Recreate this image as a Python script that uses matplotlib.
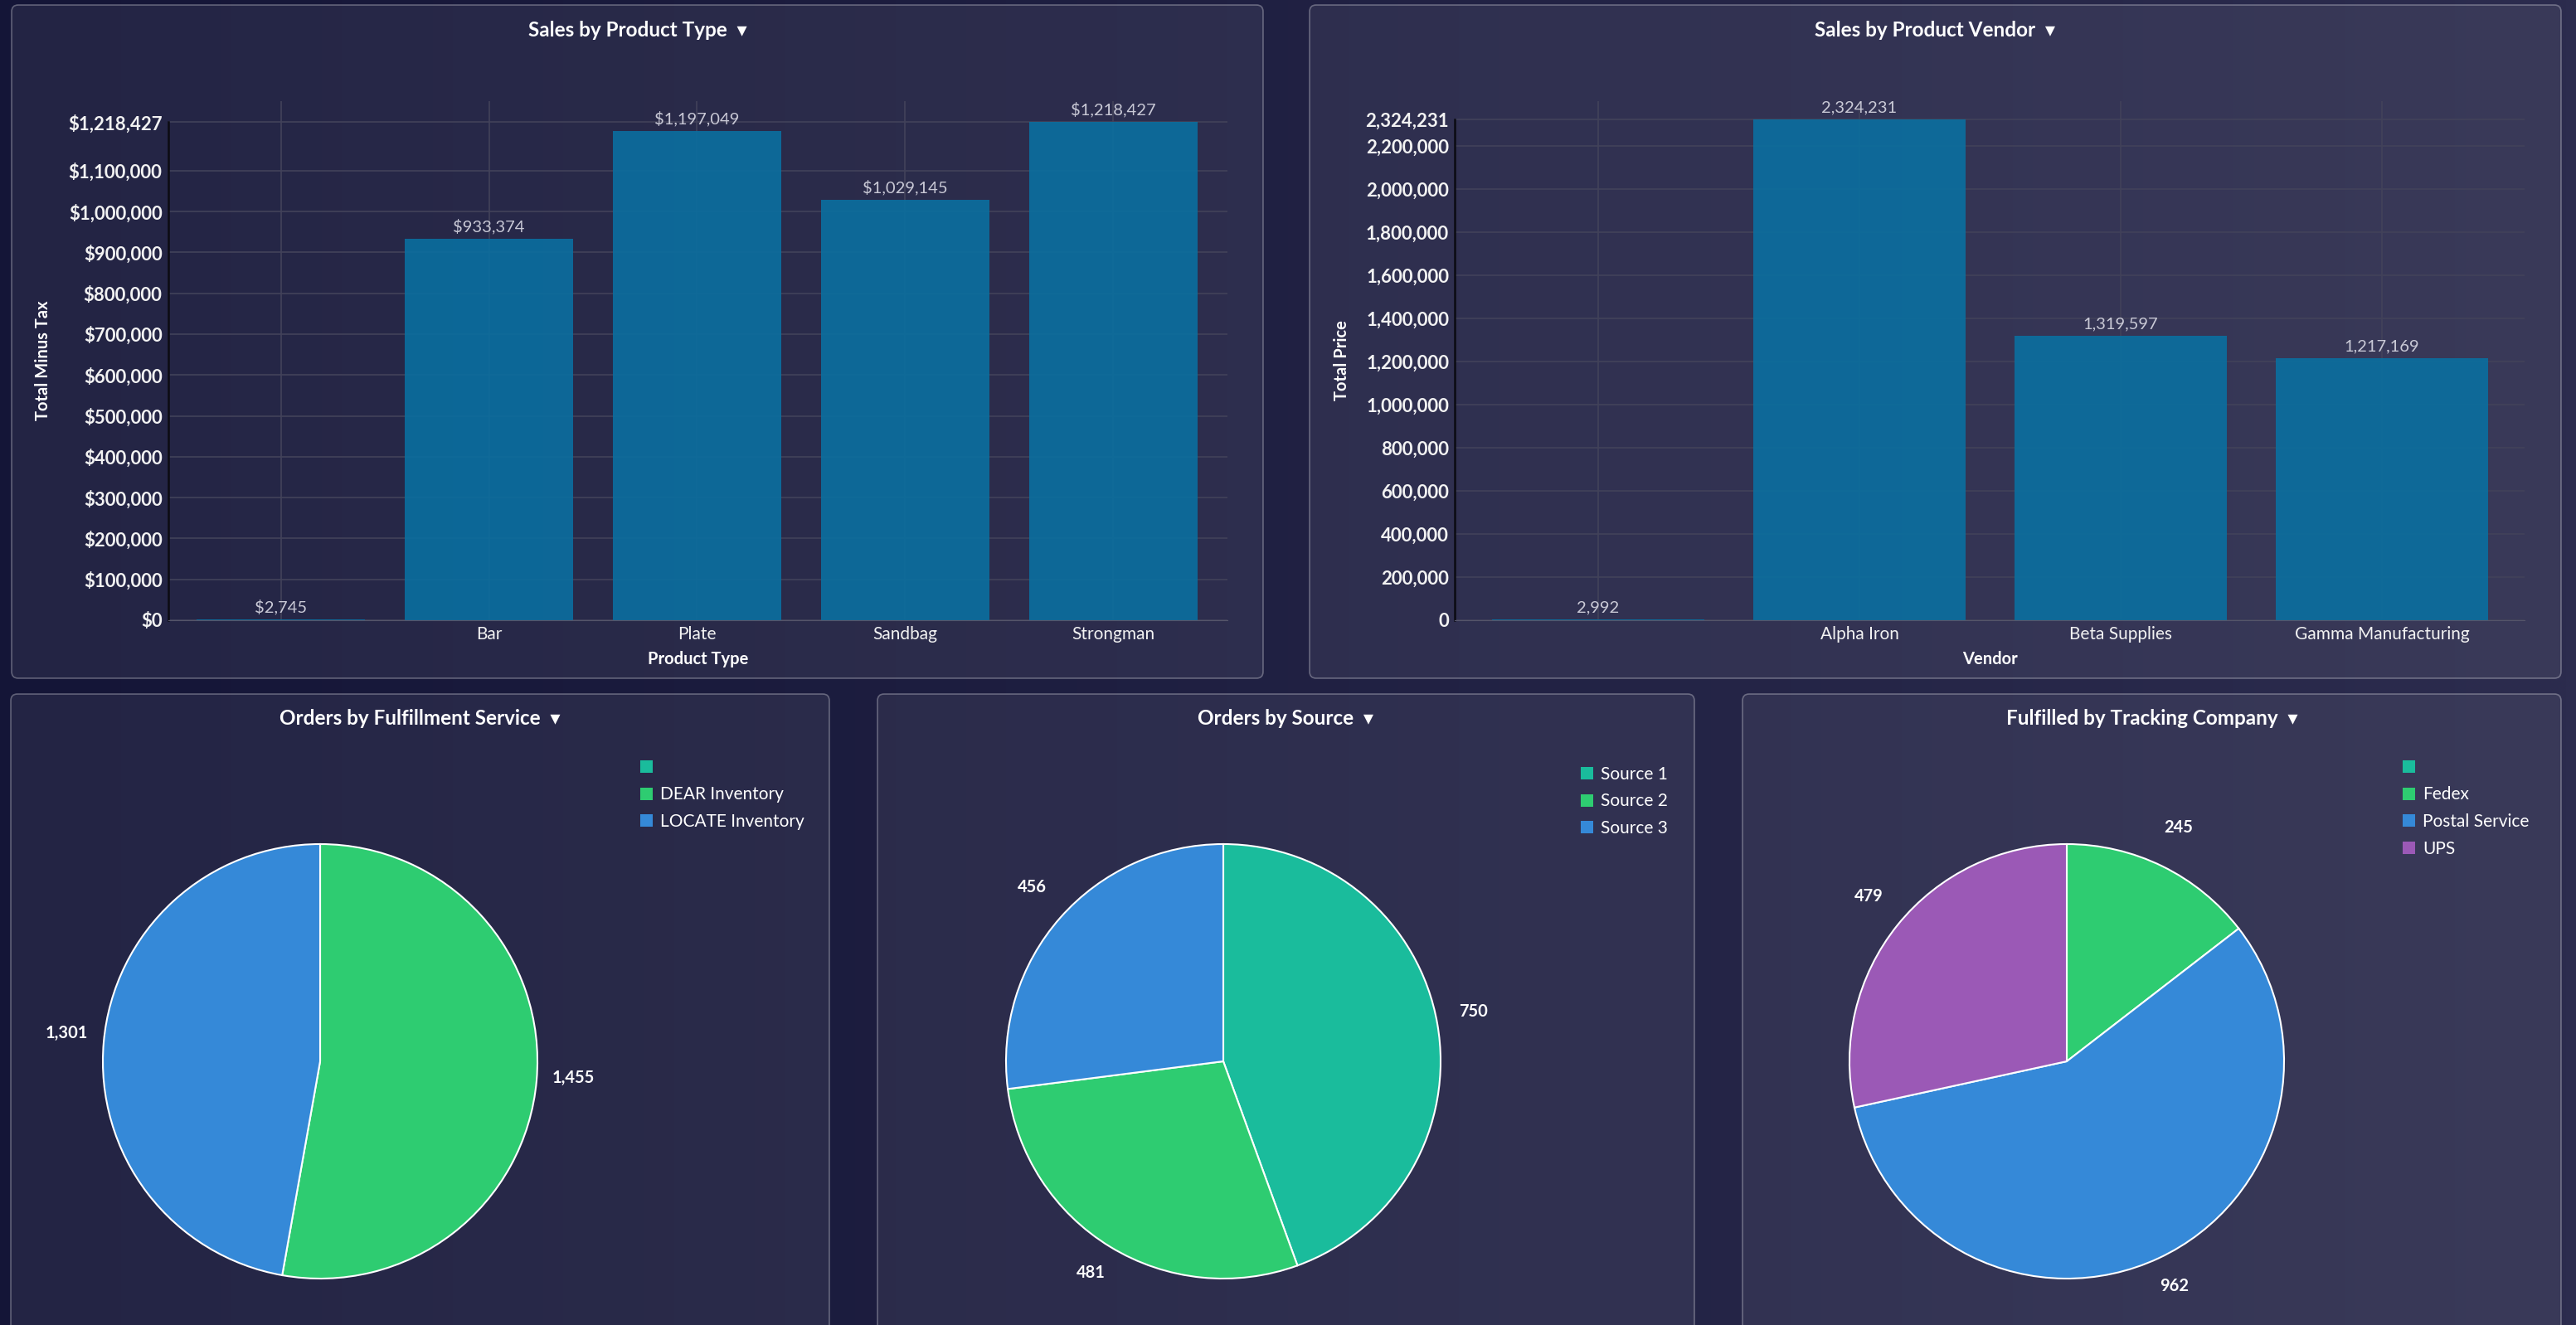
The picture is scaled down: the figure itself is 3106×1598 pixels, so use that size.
import matplotlib
matplotlib.use("Agg")
import matplotlib.pyplot as plt
import numpy as np
from matplotlib.patches import FancyBboxPatch, Patch
from matplotlib.colors import LinearSegmentedColormap

plt.rcParams['font.family'] = ['Lato', 'DejaVu Sans']

W, H = 3106, 1598

# ---- data ----
type_names = ["", "Bar", "Plate", "Sandbag", "Strongman"]
type_totals = [2745, 933374, 1197049, 1029145, 1218427]
type_ticks = [0, 100000, 200000, 300000, 400000, 500000, 600000,
              700000, 800000, 900000, 1000000, 1100000, 1218427]

vendor_names = ["", "Alpha Iron", "Beta Supplies", "Gamma Manufacturing"]
vendor_totals = [2992, 2324231, 1319597, 1217169]
vendor_ticks = [0, 200000, 400000, 600000, 800000, 1000000, 1200000,
                1400000, 1600000, 1800000, 2000000, 2200000, 2324231]

fulfil_names = ["", "DEAR Inventory", "LOCATE Inventory"]
fulfil_orders = [0, 1455, 1301]

source_names = ["Source 1", "Source 2", "Source 3"]
source_orders = [750, 481, 456]

tracking_names = ["", "Fedex", "Postal Service", "UPS"]
tracking_orders = [0, 245, 962, 479]

teal, green, blue, purple = "#1abc9c", "#2ecc71", "#3589d8", "#9b59b6"
bar_color = "#0a6fa0"

fig = plt.figure(figsize=(W / 100, H / 100), dpi=100)

# background gradient + panels, in pixel coords
bg = fig.add_axes([0, 0, 1, 1])
bg.set_xlim(0, W)
bg.set_ylim(H, 0)
bg.axis("off")
cmap = LinearSegmentedColormap.from_list("bg", ["#141537", "#2c2c4e"])
bg.imshow(np.linspace(0, 1, 256)[None, :], extent=[0, W, H, 0],
          aspect="auto", cmap=cmap, zorder=0)

panels = [
    ((14, 6, 1523, 818), "Sales by Product Type"),
    ((1579, 6, 3088, 818), "Sales by Product Vendor"),
    ((13, 837, 1000, 1640), "Orders by Fulfillment Service"),
    ((1058, 837, 2043, 1640), "Orders by Source"),
    ((2101, 837, 3088, 1640), "Fulfilled by Tracking Company"),
]
for (x0, y0, x1, y1), title in panels:
    bg.add_patch(FancyBboxPatch((x0, y0), x1 - x0, y1 - y0,
                                boxstyle="round,pad=0,rounding_size=8",
                                facecolor=(1, 1, 1, 0.065),
                                edgecolor=(1, 1, 1, 0.3), lw=1.2, zorder=1))
    bg.text((x0 + x1) / 2, y0 + 30, title + "  \u25BE", ha="center", va="center",
            fontsize=17.5, weight="bold", color="white", zorder=2)


def bar_panel(rect, names, values, ticks, prefix, xlim, ytop, ylabel, xlabel, ylabel_x):
    ax = fig.add_axes(rect)
    ax.set_facecolor("none")
    x = np.arange(len(names))
    bars = ax.bar(x, values, width=0.81, color=bar_color, alpha=0.9, zorder=2)
    ax.bar_label(bars, labels=[f"{prefix}{v:,}" for v in values], padding=4,
                 color="#c9c9d6", fontsize=14.5)
    ax.set_xticks(x, names)
    ax.set_yticks(ticks, [f"{prefix}{t:,}" for t in ticks])
    ax.set_xlim(*xlim)
    ax.set_ylim(0, ytop)
    ax.grid(True, color="#42425a", lw=1.2)
    ax.set_axisbelow(True)
    for s in ("top", "right"):
        ax.spines[s].set_visible(False)
    ax.spines["left"].set_color("#0b0b12")
    ax.spines["left"].set_linewidth(1.8)
    ax.spines["left"].set_bounds(0, max(values))
    ax.spines["bottom"].set_color("#55556a")
    ax.tick_params(length=0, colors="#f2f2f2", labelsize=15)
    ax.tick_params(axis="y", pad=5, labelsize=16)
    ax.tick_params(axis="x", pad=5)
    for lab in ax.get_yticklabels():
        lab.set_fontweight("bold")
    ax.set_ylabel(ylabel, fontsize=14.5, weight="bold", color="white")
    ax.yaxis.set_label_coords(ylabel_x, 0.5)
    ax.set_xlabel(xlabel, fontsize=14.5, weight="bold", color="white")
    ax.xaxis.set_label_coords(0.5, -0.059)


bar_panel([202.5 / W, 1 - 748 / H, 1277.5 / W, 626 / H], type_names, type_totals,
          type_ticks, "$", (-0.544, 4.55), 1.27e6, "Total Minus Tax", "Product Type", -0.110)
bar_panel([1754 / W, 1 - 748 / H, 1290 / W, 626 / H], vendor_names, vendor_totals,
          vendor_ticks, "", (-0.549, 3.546), 2.408e6, "Total Price", "Vendor", -0.098)


def pie_panel(cx, cy, names, values, colors, lx, ly):
    r = 262
    size = 2.8 * r
    ax = fig.add_axes([(cx - size / 2) / W, 1 - (cy + size / 2) / H, size / W, size / H])
    wedges, _ = ax.pie(values, colors=colors, startangle=90, counterclock=False,
                       wedgeprops=dict(edgecolor="white", linewidth=1.5))
    ax.set_xlim(-1.4, 1.4)
    ax.set_ylim(-1.4, 1.4)
    ax.set_aspect("equal")
    ax.axis("off")
    for w, v in zip(wedges, values):
        if v == 0:
            continue
        ang = np.deg2rad((w.theta1 + w.theta2) / 2)
        ax.text(1.17 * np.cos(ang), 1.17 * np.sin(ang) + 0.027, f"{v:,}", ha="center",
                va="center", fontsize=14.5, weight="bold", color="white")
    handles = [Patch(facecolor=c, label=n) for n, c in zip(names, colors)]
    fig.legend(handles=handles, loc="upper left", bbox_to_anchor=(lx / W, 1 - ly / H),
               frameon=False, fontsize=15, labelcolor="white", handlelength=0.7,
               handleheight=0.7, handletextpad=0.45, labelspacing=0.6,
               borderpad=0, borderaxespad=0)


pie_panel(386, 1280, fulfil_names, fulfil_orders, [teal, green, blue], 772, 916)
pie_panel(1475, 1280, source_names, source_orders, [teal, green, blue], 1906, 924)
pie_panel(2492, 1280, tracking_names, tracking_orders, [teal, green, blue, purple], 2897, 916)

fig.savefig("out.png", dpi=100)
